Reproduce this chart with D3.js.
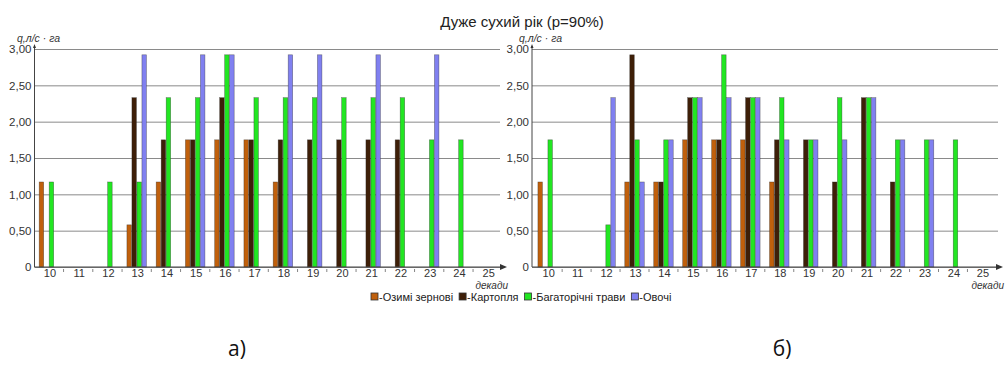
<!DOCTYPE html>
<html><head><meta charset="utf-8">
<script src="https://cdn.jsdelivr.net/npm/d3@7"></script>
<style>body{margin:0;background:#fff}svg{display:block}</style>
</head><body>
<script>
// ---------- data ----------
const decades = ["10","11","12","13","14","15","16","17","18","19","20","21","22","23","24","25"];
const seriesNames = ["Озимі зернові","Картопля","Багаторічні трави","Овочі"];
const seriesColors = ["#C0600C","#3E1F08","#22E622","#8080F0"];
const yTickValues = [0,0.5,1,1.5,2,2.5,3];
const titleText = "Дуже сухий рік (p=90%)";
const yAxisLabel = "q,л/с · га";
const xAxisLabel = "декади";
const panelLabels = ["а)","б)"];

// panel a
const aWinter = [1.17,0,0,0.58,1.17,1.75,1.75,1.75,1.17,0,0,0,0,0,0,0];
const aPotato = [0,0,0,2.33,1.75,1.75,2.33,1.75,1.75,1.75,1.75,1.75,1.75,0,0,0];
const aGrass  = [1.17,0,1.17,1.17,2.33,2.33,2.92,2.33,2.33,2.33,2.33,2.33,2.33,1.75,1.75,0];
const aVeg    = [0,0,0,2.92,0,2.92,2.92,0,2.92,2.92,0,2.92,0,2.92,0,0];
// panel b
const bWinter = [1.17,0,0,1.17,1.17,1.75,1.75,1.75,1.17,0,0,0,0,0,0,0];
const bPotato = [0,0,0,2.92,1.17,2.33,1.75,2.33,1.75,1.75,1.17,2.33,1.17,0,0,0];
const bGrass  = [1.75,0,0.58,1.75,1.75,2.33,2.92,2.33,2.33,1.75,2.33,2.33,1.75,1.75,1.75,0];
const bVeg    = [0,0,2.33,1.17,1.75,2.33,2.33,2.33,1.75,1.75,1.75,2.33,1.75,1.75,0,0];

// ---------- layout ----------
const W = 1005, H = 370;
const svg = d3.select("body").append("svg").attr("width", W).attr("height", H)
  .style("font-family", "'Liberation Sans', Arial, sans-serif");

const y = d3.scaleLinear().domain([0, 3]).range([267, 49]);
const groupW = 20;

const panels = [
  {series:[aWinter,aPotato,aGrass,aVeg], axisX:34.5, bandStart:34.3, bandEnd:502.3, gridEnd:500, arrowEnd:507, ylabX:17, label:panelLabels[0], labelX:237},
  {series:[bWinter,bPotato,bGrass,bVeg], axisX:532, bandStart:533.2, bandEnd:996.4, gridEnd:998, arrowEnd:1003, ylabX:519, label:panelLabels[1], labelX:782}
];

panels.forEach(p => {
  const step = (p.bandEnd - p.bandStart) / decades.length;
  const pI = 1 - groupW / step;
  const x0 = d3.scaleBand().domain(decades).range([p.bandStart, p.bandEnd])
    .paddingInner(pI).paddingOuter(pI / 2);
  const x1 = d3.scaleBand().domain(d3.range(seriesNames.length)).range([0, x0.bandwidth()]);

  const g = svg.append("g");

  // y axis with gridlines
  const yAx = d3.axisLeft(y).tickValues(yTickValues)
    .tickFormat(d => d === 0 ? "0" : d3.format(".2f")(d).replace(".", ","))
    .tickSizeInner(-(p.gridEnd - p.axisX)).tickSizeOuter(0).tickPadding(3);
  const yg = g.append("g").attr("transform", `translate(${p.axisX},0)`).call(yAx);
  yg.select(".domain").remove();
  yg.selectAll(".tick line").attr("stroke", "#8a8a8a").attr("stroke-width", 1);
  yg.selectAll(".tick text").attr("fill", "#333").style("font-size", "11.5px");

  // bars
  const rows = decades.map((d, i) => ({d, vals: p.series.map(s => s[i])}));
  const grp = g.append("g").selectAll("g").data(rows).join("g")
    .attr("transform", r => `translate(${x0(r.d)},0)`);
  grp.selectAll("rect").data(r => r.vals.map((v, k) => ({v, k})).filter(o => o.v > 0))
    .join("rect")
    .attr("x", o => x1(o.k) + 0.25)
    .attr("width", x1.bandwidth() - 0.5)
    .attr("y", o => y(o.v))
    .attr("height", o => y(0) - y(o.v))
    .attr("fill", o => seriesColors[o.k])
    .attr("stroke", "rgba(40,40,40,0.55)").attr("stroke-width", 0.6);

  // x axis line + arrow
  g.append("line").attr("x1", p.axisX).attr("x2", p.arrowEnd - 3)
    .attr("y1", y(0)).attr("y2", y(0)).attr("stroke", "#444").attr("stroke-width", 1);
  g.append("path").attr("d", `M${p.arrowEnd},${y(0)} l-7,-3 l0,6 z`).attr("fill", "#333");
  // y axis line + arrow
  g.append("line").attr("x1", p.axisX).attr("x2", p.axisX)
    .attr("y1", y(0)).attr("y2", y(3) - 3).attr("stroke", "#444").attr("stroke-width", 1);
  g.append("path").attr("d", `M${p.axisX},${y(3) - 5} l-1.5,4 l3,0 z`).attr("fill", "#333");

  // x tick labels
  const xAx = d3.axisBottom(x0).tickSizeInner(0).tickSizeOuter(0).tickPadding(2);
  const xg = g.append("g").attr("transform", `translate(1,${y(0)})`).call(xAx);
  xg.select(".domain").remove();
  xg.selectAll(".tick text").attr("fill", "#333").style("font-size", "11px");
  // boundary ticks
  g.append("g").selectAll("line").data(decades.slice(1)).join("line")
    .attr("x1", d => x0(d) - x0.step() * pI / 2).attr("x2", d => x0(d) - x0.step() * pI / 2)
    .attr("y1", y(0) + 2).attr("y2", y(0) + 5).attr("stroke", "#666").attr("stroke-width", 0.8);

  // axis titles
  g.append("text").attr("x", p.ylabX).attr("y", 42).text(yAxisLabel)
    .attr("fill", "#333").style("font-size", "10.5px").style("font-style", "italic");
  g.append("text").attr("x", p.arrowEnd + 1).attr("y", 288.5).attr("text-anchor", "end").text(xAxisLabel)
    .attr("fill", "#333").style("font-size", "10px").style("font-style", "italic");

  // panel label
  svg.append("text").attr("x", p.labelX).attr("y", 356).attr("text-anchor", "middle")
    .text(p.label).attr("fill", "#111").style("font-family", "'Open Sans', sans-serif").style("font-size", "21px");
});

// title
svg.append("text").attr("x", 522).attr("y", 27).attr("text-anchor", "middle").text(titleText)
  .attr("fill", "#222").style("font-size", "15px");

// legend
const leg = svg.append("g");
let lx = 371;
seriesNames.forEach((n, k) => {
  leg.append("rect").attr("x", lx).attr("y", 293).attr("width", 7).attr("height", 7)
    .attr("fill", seriesColors[k]).attr("stroke", "#333").attr("stroke-width", 0.8);
  const t = leg.append("text").attr("x", lx + 8).attr("y", 301).text("-" + n)
    .attr("fill", "#222").style("font-size", "11px");
  lx += 8 + t.node().getComputedTextLength() + 6;
});
</script>
</body></html>
